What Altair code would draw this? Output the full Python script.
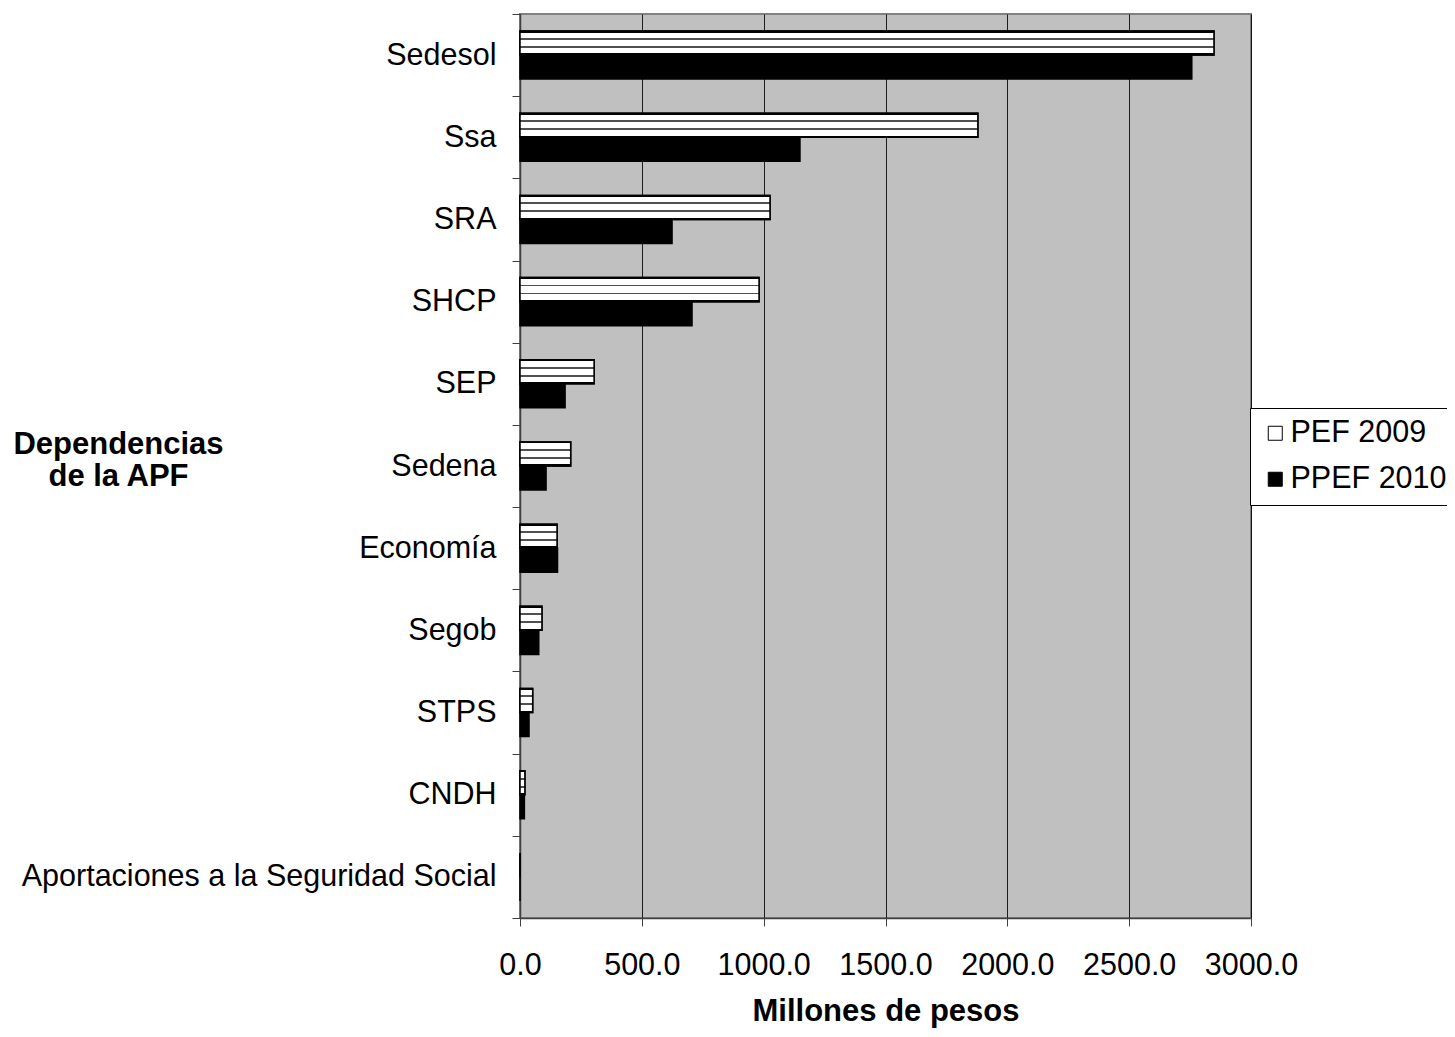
import altair as alt
import pandas as pd

categories = ["Sedesol", "Ssa", "SRA", "SHCP", "SEP", "Sedena", "Economía",
              "Segob", "STPS", "CNDH", "Aportaciones a la Seguridad Social"]
pef_2009 = [2848, 1879, 1026, 981, 304, 208, 152, 90, 52, 20, 0]
ppef_2010 = [2757, 1149, 624, 706, 185, 107, 154, 77, 37, 18, 0]
series_names = ["PEF 2009", "PPEF 2010"]
x_ticks = [0, 500, 1000, 1500, 2000, 2500, 3000]

rows = []
for c, a, b in zip(categories, pef_2009, ppef_2010):
    rows.append({"dep": c, "series": series_names[0], "value": a})
    rows.append({"dep": c, "series": series_names[1], "value": b})
df = pd.DataFrame(rows)

FONT = "Liberation Sans"
LBL = 30.5
TTL = 31

brick = alt.LinearGradient(
    gradient="linear", x1=0, x2=0, y1=0, y2=1,
    stops=[
        alt.GradientStop(offset=0.0, color="#000000"),
        alt.GradientStop(offset=0.06, color="#000000"),
        alt.GradientStop(offset=0.06, color="#ffffff"),
        alt.GradientStop(offset=0.29, color="#ffffff"),
        alt.GradientStop(offset=0.29, color="#505050"),
        alt.GradientStop(offset=0.37, color="#505050"),
        alt.GradientStop(offset=0.37, color="#ffffff"),
        alt.GradientStop(offset=0.62, color="#ffffff"),
        alt.GradientStop(offset=0.62, color="#505050"),
        alt.GradientStop(offset=0.70, color="#505050"),
        alt.GradientStop(offset=0.70, color="#ffffff"),
        alt.GradientStop(offset=0.93, color="#ffffff"),
        alt.GradientStop(offset=0.93, color="#000000"),
        alt.GradientStop(offset=1.0, color="#000000"),
    ],
)

y_enc = alt.Y(
    "dep:N",
    sort=categories,
    scale=alt.Scale(paddingInner=0, paddingOuter=0),
    axis=alt.Axis(
        title=["Dependencias", "de la APF"],
        titleAngle=0,
        titleAlign="center",
        titleBaseline="top",
        titleX=-402,
        titleY=415,
        titleFont=FONT,
        titleFontSize=TTL,
        titleFontWeight="bold",
        titleColor="black",
        titleLineHeight=32,
        labelFont=FONT,
        labelFontSize=LBL,
        labelColor="black",
        labelPadding=16,
        tickBand="extent",
        tickSize=8,
        tickColor="#404040",
        domainColor="#404040",
        domainWidth=1.5,
        labelLimit=600,
    ),
)
yoff_enc = alt.YOffset(
    "series:N",
    sort=series_names,
    scale=alt.Scale(domain=series_names, paddingInner=0, paddingOuter=0.71),
)
x_enc = alt.X(
    "value:Q",
    scale=alt.Scale(domain=[0, 3000], nice=False),
    axis=alt.Axis(
        title="Millones de pesos",
        values=x_ticks,
        format=".1f",
        labelOverlap=False,
        labelFlush=False,
        grid=True,
        gridColor="#000000",
        gridWidth=1,
        gridOpacity=0.85,
        tickSize=8,
        tickColor="#404040",
        domainColor="#404040",
        domainWidth=1.5,
        labelFont=FONT,
        labelFontSize=LBL,
        labelColor="black",
        labelPadding=24,
        titleFont=FONT,
        titleFontSize=TTL,
        titleFontWeight="bold",
        titleColor="black",
        titlePadding=16,
    ),
)

base = alt.Chart(df).encode(y=y_enc, yOffset=yoff_enc, x=x_enc)

bars = base.mark_bar(stroke="black", strokeWidth=1.5).encode(
    fill=alt.Fill(
        "series:N",
        scale=alt.Scale(domain=series_names, range=["#ffffff", "#000000"]),
        legend=alt.Legend(
            title=None,
            orient="none",
            legendX=730,
            legendY=394,
            strokeColor="black",
            fillColor="white",
            padding=10,
            symbolType="square",
            symbolSize=196,
            symbolStrokeColor="black",
            symbolStrokeWidth=1,
            labelFont=FONT,
            labelFontSize=LBL,
            labelColor="black",
            labelOffset=0,
            rowPadding=15,
            labelLimit=400,
        ),
    )
)

bricks = base.mark_bar(fill=brick, stroke="black", strokeWidth=1.5).transform_filter(
    alt.datum.series == series_names[0]
)

chart = (
    alt.layer(bars, bricks)
    .properties(
        width=731,
        height=904,
        autosize=alt.AutoSizeParams(type="none"),
        padding={"left": 512, "top": 6, "right": 196, "bottom": 111},
        background="white",
    )
    .configure_view(fill="#c0c0c0", stroke="#808080", strokeWidth=2)
)

chart.save("out.html", embed_options={"renderer": "svg", "actions": False})
